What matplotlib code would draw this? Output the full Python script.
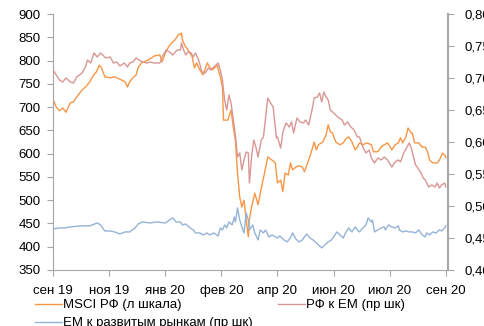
# %% Data
import numpy as np
import matplotlib
matplotlib.use("Agg")
import matplotlib.pyplot as plt
from matplotlib.ticker import FuncFormatter

tick_labels = ["сен 19", "ноя 19", "янв 20", "фев 20", "апр 20", "июн 20", "июл 20", "сен 20"]

# days since 20.09.2019
msci_days = [0, 3, 6, 9, 12, 16, 19, 22, 27, 30, 34, 37, 40, 43, 45, 48, 53, 57, 62, 67,
             69, 71, 74, 77, 79, 82, 88, 94, 99, 101, 104, 107, 110, 113, 116, 119, 120, 122, 125, 129,
             131, 133, 136, 139, 143, 145, 148, 152, 155, 157, 158, 162, 165, 167, 169, 171, 173, 175, 177, 179,
             181, 182, 184, 187, 190, 194, 196, 199, 203, 206, 208, 211, 213, 215, 218, 220, 222, 225, 228, 231,
             233, 236, 239, 242, 244, 246, 250, 253, 255, 257, 259, 262, 266, 269, 271, 274, 277, 280, 282, 284,
             287, 291, 295, 297, 301, 304, 307, 310, 314, 317, 320, 322, 324, 327, 329, 332, 333, 335, 339, 342,
             345, 347, 349, 352, 356, 358, 361, 363, 364]
msci_rf = [717, 700, 692, 698, 689, 709, 711, 722, 737, 743, 754, 767, 775, 790, 784, 765, 763, 765, 760, 754,
           743, 754, 763, 769, 786, 795, 801, 810, 812, 797, 816, 829, 838, 844, 855, 859, 844, 833, 823, 808,
           784, 795, 780, 769, 795, 786, 780, 790, 765, 743, 672, 672, 694, 657, 629, 558, 507, 485, 500, 458,
           421, 458, 485, 515, 490, 537, 558, 593, 586, 580, 537, 543, 518, 558, 554, 580, 565, 571, 574, 571,
           561, 580, 601, 625, 608, 619, 625, 640, 662, 647, 644, 625, 619, 623, 631, 636, 625, 608, 614, 623,
           619, 623, 619, 604, 604, 614, 619, 623, 608, 619, 623, 634, 623, 636, 655, 644, 644, 623, 623, 614,
           614, 604, 586, 580, 580, 586, 601, 597, 591]

rf_em_days = [0, 3, 6, 9, 12, 16, 19, 22, 27, 30, 32, 35, 38, 41, 44, 46, 49, 53, 56, 59,
              62, 66, 69, 71, 74, 77, 81, 83, 87, 90, 94, 99, 102, 105, 108, 111, 115, 118, 119, 121,
              123, 125, 128, 130, 132, 135, 138, 141, 144, 146, 149, 153, 155, 157, 159, 161, 163, 165, 168, 169,
              171, 173, 175, 177, 179, 181, 182, 184, 186, 188, 190, 193, 195, 197, 199, 201, 204, 207, 208, 211,
              213, 216, 219, 221, 223, 226, 229, 232, 234, 237, 240, 242, 245, 247, 249, 251, 253, 255, 257, 259,
              262, 265, 268, 270, 273, 276, 279, 282, 284, 287, 290, 293, 295, 298, 301, 304, 307, 310, 314, 317,
              320, 322, 325, 328, 330, 332, 334, 336, 338, 341, 343, 345, 348, 351, 354, 356, 358, 360, 363, 364]
rf_em = [0.7125, 0.7047, 0.6969, 0.6938, 0.7000, 0.6938, 0.6922, 0.7016, 0.7078, 0.7172,
         0.7281, 0.7234, 0.7391, 0.7328, 0.7391, 0.7359, 0.7313, 0.7328, 0.7234, 0.7250,
         0.7188, 0.7234, 0.7172, 0.7234, 0.7250, 0.7313, 0.7266, 0.7250, 0.7234, 0.7250,
         0.7234, 0.7234, 0.7359, 0.7438, 0.7406, 0.7359, 0.7438, 0.7438, 0.7547, 0.7438,
         0.7359, 0.7406, 0.7391, 0.7328, 0.7391, 0.7281, 0.7094, 0.7078, 0.7156, 0.7125,
         0.7172, 0.7234, 0.7125, 0.6969, 0.6656, 0.6500, 0.6734, 0.6609, 0.6234, 0.6109,
         0.5766, 0.5828, 0.5563, 0.5719, 0.5844, 0.5828, 0.5359, 0.5766, 0.6031, 0.5922,
         0.5766, 0.6031, 0.6078, 0.6391, 0.6688, 0.6625, 0.6547, 0.6063, 0.6078, 0.5906,
         0.6156, 0.6297, 0.6234, 0.6313, 0.6141, 0.6375, 0.6313, 0.6297, 0.6344, 0.6266,
         0.6500, 0.6688, 0.6703, 0.6766, 0.6625, 0.6781, 0.6703, 0.6656, 0.6500, 0.6469,
         0.6422, 0.6375, 0.6344, 0.6266, 0.6313, 0.6234, 0.6188, 0.6078, 0.6078, 0.5922,
         0.5828, 0.5875, 0.5750, 0.5672, 0.5750, 0.5719, 0.5766, 0.5719, 0.5609, 0.5688,
         0.5719, 0.5688, 0.5828, 0.5922, 0.5984, 0.5906, 0.5766, 0.5641, 0.5594, 0.5516,
         0.5438, 0.5406, 0.5297, 0.5328, 0.5297, 0.5359, 0.5281, 0.5328, 0.5359, 0.5297]

em_dm_days = [0, 6, 11, 16, 25, 34, 41, 44, 48, 53, 57, 62, 67, 71, 76, 79, 83, 90, 96, 104,
              108, 111, 114, 118, 120, 123, 127, 130, 132, 136, 139, 143, 145, 149, 153, 155, 157, 159, 161, 163,
              166, 168, 169, 171, 173, 175, 177, 179, 181, 182, 185, 187, 190, 192, 195, 197, 200, 203, 206, 208,
              210, 214, 217, 220, 222, 225, 228, 231, 233, 235, 238, 241, 244, 246, 249, 252, 255, 258, 260, 263,
              266, 269, 271, 274, 277, 280, 282, 284, 287, 290, 292, 295, 296, 298, 301, 304, 307, 308, 311, 314,
              317, 320, 321, 324, 327, 330, 333, 336, 339, 342, 345, 346, 349, 352, 355, 358, 360, 363, 364]
em_dm = [0.4641, 0.4656, 0.4656, 0.4672, 0.4688, 0.4688, 0.4734, 0.4703, 0.4609, 0.4609,
         0.4594, 0.4563, 0.4594, 0.4594, 0.4656, 0.4719, 0.4750, 0.4734, 0.4750, 0.4734,
         0.4781, 0.4813, 0.4750, 0.4750, 0.4703, 0.4719, 0.4656, 0.4625, 0.4578, 0.4578,
         0.4547, 0.4578, 0.4547, 0.4578, 0.4531, 0.4656, 0.4625, 0.4703, 0.4656, 0.4750,
         0.4703, 0.4828, 0.4750, 0.4969, 0.4781, 0.4672, 0.4578, 0.4891, 0.4781, 0.4625,
         0.4703, 0.4578, 0.4469, 0.4625, 0.4578, 0.4625, 0.4516, 0.4547, 0.4516, 0.4500,
         0.4531, 0.4469, 0.4438, 0.4500, 0.4578, 0.4484, 0.4438, 0.4469, 0.4516, 0.4563,
         0.4500, 0.4469, 0.4422, 0.4391, 0.4344, 0.4391, 0.4438, 0.4469, 0.4516, 0.4594,
         0.4547, 0.4500, 0.4578, 0.4656, 0.4594, 0.4672, 0.4625, 0.4594, 0.4656, 0.4703,
         0.4813, 0.4750, 0.4781, 0.4594, 0.4625, 0.4656, 0.4672, 0.4625, 0.4703, 0.4672,
         0.4656, 0.4688, 0.4625, 0.4594, 0.4609, 0.4594, 0.4594, 0.4578, 0.4625, 0.4547,
         0.4516, 0.4578, 0.4547, 0.4594, 0.4578, 0.4625, 0.4609, 0.4656, 0.4688]

# %% Plot
plt.rcParams['font.family'] = ['Liberation Sans', 'DejaVu Sans']
fs = 9.5
grey = '#a6a6a6'

fig = plt.figure(figsize=(4.84, 3.26), dpi=100)
ax = fig.add_axes([0.1095, 0.172, 0.8161, 0.785])
ax2 = ax.twinx()

l1, = ax.plot(msci_days, msci_rf, color='#f79646', lw=1.0)
l2, = ax2.plot(rf_em_days, rf_em, color='#d99694', lw=1.0)
l3, = ax2.plot(em_dm_days, em_dm, color='#95b3d7', lw=1.0)

ax.set_xlim(0, 366)
ax.set_ylim(350, 900)
ax2.set_ylim(0.40, 0.80)
ax.set_yticks(np.arange(350, 901, 50))
ax2.set_yticks(np.arange(0.40, 0.801, 0.05))
ax2.yaxis.set_major_formatter(FuncFormatter(lambda v, p: f"{v:.2f}".replace('.', ',')))
ax.set_xticks(np.arange(0, 365, 52))
ax.set_xticklabels(tick_labels)

for a in (ax, ax2):
    a.spines['top'].set_visible(False)
    for s in ('left', 'right', 'bottom'):
        a.spines[s].set_color(grey)
    a.tick_params(colors=grey, labelcolor='black', labelsize=fs, length=4, width=0.8)
ax.spines['right'].set_visible(False)
ax2.spines['left'].set_visible(False)
ax2.spines['bottom'].set_visible(False)
ax2.spines['right'].set_linewidth(1.5)
ax.tick_params(axis='y', pad=5)
ax2.tick_params(axis='y', pad=8)
ax.tick_params(axis='x', pad=7)

fig.legend([l1, l3, l2],
           ["MSCI РФ (л шкала)", "EM к развитым рынкам (пр шк)", "РФ к EM (пр шк)"],
           ncol=2, loc='upper left', bbox_to_anchor=(0.072, 0.083),
           frameon=False, fontsize=fs, handlelength=2.05, handletextpad=0.1,
           columnspacing=1.9, borderpad=0, borderaxespad=0, labelspacing=0.45)

fig.savefig("out.png", dpi=100)
